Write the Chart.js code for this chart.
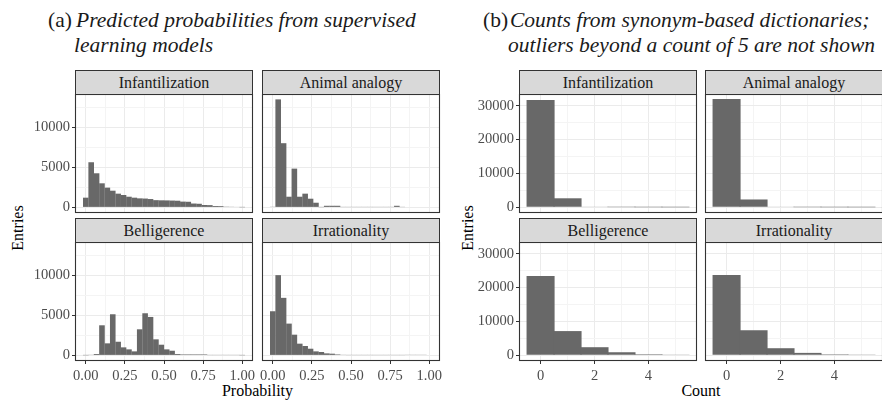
<!DOCTYPE html>
<html>
  <head>
    <meta charset="UTF-8" />
    <title>Entries histograms</title>
    <script src="https://cdn.jsdelivr.net/npm/chart.js"></script>
    <style>
      body {
        margin: 0;
        background: #fff;
        font-family: "Liberation Serif", serif;
      }

      #wrap {
        position: relative;
        width: 882px;
        height: 400px;
        overflow: hidden;
      }

      .strip {
        position: absolute;
        box-sizing: border-box;
        height: 25px;
        background: #d9d9d9;
        border: 1px solid #333;
        text-align: center;
        font-size: 16px;
        line-height: 23px;
        color: #1a1a1a;
        white-space: nowrap;
      }

      .pane {
        position: absolute;
      }

      .title {
        position: absolute;
        font-size: 21.5px;
        line-height: 25px;
        color: #1a1a1a;
        white-space: nowrap;
      }

      .axt {
        position: absolute;
        font-size: 16px;
        line-height: 18px;
        color: #000;
        white-space: nowrap;
      }
    </style>
  </head>

  <body>
    <div id="wrap">
      <div class="title" style="left: 48px; top: 8px">(a)</div>
      <div class="title" style="left: 76px; top: 8px"><i>Predicted probabilities from supervised</i></div>
      <div class="title" style="left: 74px; top: 33px"><i>learning models</i></div>
      <div class="title" style="left: 483px; top: 8px">(b)</div>
      <div class="title" style="left: 510px; top: 8px"><i>Counts from synonym-based dictionaries;</i></div>
      <div class="title" style="left: 508px; top: 33px"><i>outliers beyond a count of 5 are not shown</i></div>

      <div class="axt" style="left: 17.5px; top: 227.5px; transform: translate(-50%, -50%) rotate(-90deg)">Entries</div>
      <div class="axt" style="left: 468px; top: 227.5px; transform: translate(-50%, -50%) rotate(-90deg)">Entries</div>
      <div class="axt" style="left: 257.5px; top: 382px; transform: translateX(-50%)">Probability</div>
      <div class="axt" style="left: 701px; top: 382px; transform: translateX(-50%)">Count</div>
    </div>

    <script>
      // facet names, in facet_wrap order
      const facetNames = ["Infantilization", "Animal analogy", "Belligerence", "Irrationality"];

      // (a) histogram bin centres (30 bins on 0..1)
      const probCenters = [
        0, 0.0345, 0.069, 0.1034, 0.1379, 0.1724, 0.2069, 0.2414, 0.2759, 0.3103,
        0.3448, 0.3793, 0.4138, 0.4483, 0.4828, 0.5172, 0.5517, 0.5862, 0.6207, 0.6552,
        0.6897, 0.7241, 0.7586, 0.7931, 0.8276, 0.8621, 0.8966, 0.931, 0.9655, 1.0,
      ];
      const infProb = [
        1210, 5625, 4250, 3000, 2460, 2080, 1710, 1540, 1330, 1210,
        1125, 1100, 1040, 900, 880, 870, 850, 830, 720, 700,
        480, 450, 300, 280, 170, 160, 90, 80, 70, 20,
      ];
      const animalProb = [
        80, 13460, 8000, 1330, 4830, 1330, 1710, 1080, 580, 30,
        200, 200, 200, 40, 40, 40, 40, 40, 40, 40,
        40, 40, 40, 200, 40, 0, 0, 0, 0, 0,
      ];
      const bellProb = [
        20, 80, 170, 3750, 1500, 5125, 1700, 1000, 750, 500,
        3250, 5250, 4790, 2000, 1330, 750, 580, 170, 125, 125,
        125, 125, 125, 40, 40, 40, 40, 40, 40, 20,
      ];
      const irrProb = [
        5500, 10000, 7170, 3960, 2580, 1460, 1170, 830, 500, 420,
        250, 210, 125, 80, 40, 40, 40, 40, 40, 40,
        40, 40, 40, 40, 40, 80, 80, 80, 80, 0,
      ];

      // (b) count bins 0..5
      const countCenters = [0, 1, 2, 3, 4, 5];
      const infCount = [31700, 2650, 180, 40, 15, 5];
      const animalCount = [32000, 2300, 120, 30, 10, 5];
      const bellCount = [23450, 7150, 2380, 890, 300, 100];
      const irrCount = [23750, 7400, 2080, 700, 280, 90];

      // tick labels (major) and minor grid positions
      const probTicks = [0, 0.25, 0.5, 0.75, 1];
      const probMinor = [0.125, 0.375, 0.625, 0.875];
      const countTicks = [0, 2, 4];
      const countMinor = [1, 3, 5];
      const probEntryTicks = [0, 5000, 10000];
      const probEntryMinor = [2500, 7500, 12500];
      const countEntryTicks = [0, 10000, 20000, 30000];
      const countEntryMinor = [5000, 15000, 25000];

      const wrap = document.getElementById("wrap");
      const FONT = "'Liberation Serif', serif";

      // ggplot-like panel border
      const panelBorder = {
        id: "panelBorder",
        afterDraw(c) {
          const a = c.chartArea;
          const g = c.ctx;
          g.save();
          g.strokeStyle = "#333";
          g.lineWidth = 1.1;
          g.strokeRect(a.left + 0.5, a.top + 0.5, a.right - a.left - 1, a.bottom - a.top - 1);
          g.restore();
        },
      };

      function isIn(list, v) {
        return list.some((t) => Math.abs(t - v) < 1e-6);
      }

      function axis(o, horizontal) {
        const major = o.major;
        const size = o.size;
        return {
          type: "linear",
          min: o.min,
          max: o.max,
          offset: false,
          border: { display: false },
          grid: {
            offset: false,
            drawTicks: o.show,
            tickLength: 3,
            lineWidth: 1,
            color: (ctx) => (isIn(major, ctx.tick.value) ? "#ebebeb" : "#f4f4f4"),
            tickColor: (ctx) => (isIn(major, ctx.tick.value) ? "#333" : "rgba(0,0,0,0)"),
          },
          ticks: {
            display: o.show,
            autoSkip: false,
            maxRotation: 0,
            padding: horizontal ? 3 : 2,
            color: "#4d4d4d",
            font: { family: FONT, size: 14.5 },
            callback: (v) => (isIn(major, v) ? o.fmt(v) : ""),
          },
          // stepSize gets ignored for big steps, so list the ticks directly
          afterBuildTicks: (s) => {
            s.ticks = major
              .concat(o.minor)
              .sort((a, b) => a - b)
              .map((v) => ({ value: v }));
          },
          afterFit: (s) => {
            if (horizontal) s.height = size;
            else s.width = size;
            s.paddingLeft = 0;
            s.paddingRight = 0;
            s.paddingTop = 0;
            s.paddingBottom = 0;
          },
        };
      }

      function makePanel(p) {
        const yW = p.showY ? 62 : 0;
        const xH = p.showX ? 24 : 0;
        const L = p.showY ? 64 : 16;
        const R = 16;
        const T = 4;
        const B = p.showX ? 28 : 4;
        const cv = document.createElement("canvas");
        cv.className = "pane";
        cv.width = p.w + L + R;
        cv.height = p.h + T + B;
        cv.style.left = p.left - L + "px";
        cv.style.top = p.top - T + "px";
        wrap.appendChild(cv);

        const strip = document.createElement("div");
        strip.className = "strip";
        strip.style.left = p.left + "px";
        strip.style.top = p.top - 24 + "px";
        strip.style.width = p.w + "px";
        strip.textContent = p.name;
        wrap.appendChild(strip);

        new Chart(cv, {
          type: "bar",
          data: {
            datasets: [
              {
                data: p.centers.map((x, i) => ({ x: x, y: p.values[i] })),
                backgroundColor: "#686868",
                borderWidth: 0,
                barPercentage: 1.04,
                categoryPercentage: 1,
              },
            ],
          },
          options: {
            responsive: false,
            animation: false,
            events: [],
            layout: { padding: { left: L - yW, right: R, top: T, bottom: B - xH } },
            plugins: { legend: { display: false }, tooltip: { enabled: false } },
            scales: {
              x: axis({ min: p.xMin, max: p.xMax, major: p.xMajor, minor: p.xMinor, fmt: p.xFmt, show: p.showX, size: xH }, true),
              y: axis({ min: p.yMin, max: p.yMax, major: p.yMajor, minor: p.yMinor, fmt: (v) => String(v), show: p.showY, size: yW }, false),
            },
          },
          plugins: [panelBorder],
        });
      }

      const W = 178;
      const H = 119;
      const rowTops = [94, 242];

      // (a) panels
      const probSets = [infProb, animalProb, bellProb, irrProb];
      const aLeft = [75, 262];
      probSets.forEach((vals, i) => {
        const r = Math.floor(i / 2);
        const c = i % 2;
        makePanel({
          name: facetNames[i],
          left: aLeft[c],
          top: rowTops[r],
          w: W,
          h: H,
          showX: r === 1,
          showY: c === 0,
          centers: probCenters,
          values: vals,
          xMin: -0.069,
          xMax: 1.069,
          xMajor: probTicks,
          xMinor: probMinor,
          xFmt: (v) => v.toFixed(2),
          yMin: -700,
          yMax: 14130,
          yMajor: probEntryTicks,
          yMinor: probEntryMinor,
        });
      });

      // (b) panels
      const countSets = [infCount, animalCount, bellCount, irrCount];
      const bLeft = [519, 705];
      countSets.forEach((vals, i) => {
        const r = Math.floor(i / 2);
        const c = i % 2;
        makePanel({
          name: facetNames[i],
          left: bLeft[c],
          top: rowTops[r],
          w: W,
          h: H,
          showX: r === 1,
          showY: c === 0,
          centers: countCenters,
          values: vals,
          xMin: -0.8,
          xMax: 5.8,
          xMajor: countTicks,
          xMinor: countMinor,
          xFmt: (v) => String(v),
          yMin: -1700,
          yMax: 33500,
          yMajor: countEntryTicks,
          yMinor: countEntryMinor,
        });
      });
    </script>
  </body>
</html>
